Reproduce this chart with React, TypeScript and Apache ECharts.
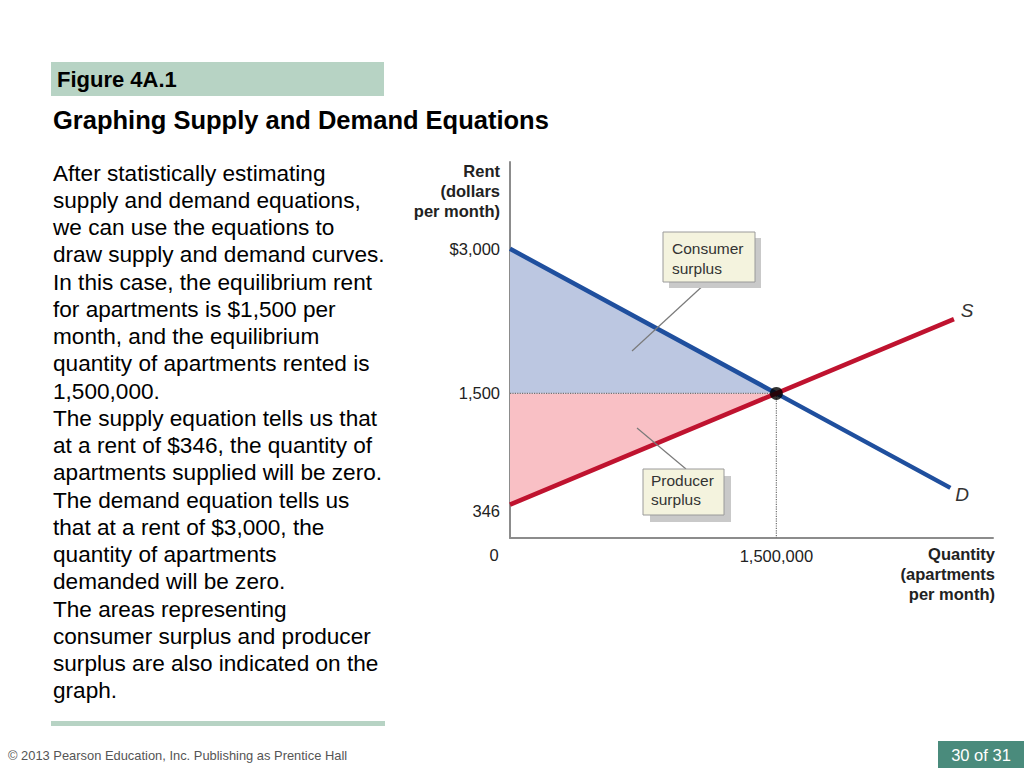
import React, { useEffect, useRef } from "react";
import * as echarts from "echarts";

// ---- data ----
const supplyQ = [0, 1500000, 2500000];
const supplyP = [346, 1500, 2270];
const demandQ = [0, 1500000, 2480000];
const demandP = [3000, 1500, 520];
const equilibrium = [1500000, 1500];
const consumerSurplusQ = [0, 0, 1500000];
const consumerSurplusP = [3000, 1500, 1500];
const producerSurplusQ = [0, 1500000, 0];
const producerSurplusP = [1500, 1500, 346];
const yTickValues = [346, 1500, 3000];
const yTickLabels = ["346", "1,500", "$3,000"];
const xTickValues = [1500000];
const xTickLabels = ["1,500,000"];

const bodyLines = [
  "After statistically estimating",
  "supply and demand equations,",
  "we can use the equations to",
  "draw supply and demand curves.",
  "In this case, the equilibrium rent",
  "for apartments is $1,500 per",
  "month, and the equilibrium",
  "quantity of apartments rented is",
  "1,500,000.",
  "The supply equation tells us that",
  "at a rent of $346, the quantity of",
  "apartments supplied will be zero.",
  "The demand equation tells us",
  "that at a rent of $3,000, the",
  "quantity of apartments",
  "demanded will be zero.",
  "The areas representing",
  "consumer surplus and producer",
  "surplus are also indicated on the",
  "graph.",
];

const FONT = "'Liberation Sans', Arial, Helvetica, sans-serif";

function polygonSeries(qs: number[], ps: number[], fill: string) {
  return {
    type: "custom",
    silent: true,
    clip: false,
    z: 1,
    data: [[qs[0], ps[0]]],
    renderItem: (_params: any, api: any) => ({
      type: "polygon",
      shape: { points: qs.map((q, i) => api.coord([q, ps[i]])) },
      style: { fill, stroke: "none" },
    }),
  };
}

export default function App() {
  const ref = useRef<HTMLDivElement>(null);
  useEffect(() => {
    if (!ref.current) return;
    const chart = echarts.init(ref.current, null, { renderer: "svg" });
    const option: any = {
      animation: false,
      backgroundColor: "#ffffff",
      grid: { left: 510, top: 162, width: 483, height: 376, containLabel: false },
      xAxis: {
        type: "value",
        min: 0,
        max: 2720000,
        splitLine: { show: false },
        axisTick: { show: false },
        axisLine: { show: true, lineStyle: { color: "#8c8c8c", width: 2 } },
        axisLabel: {
          customValues: xTickValues,
          formatter: (v: number) => xTickLabels[xTickValues.indexOf(v)] ?? "",
          color: "#222",
          fontSize: 16.5,
          fontFamily: FONT,
          margin: 9,
        },
      },
      yAxis: {
        type: "value",
        min: 0,
        max: 3900,
        splitLine: { show: false },
        axisTick: { show: false },
        axisLine: { show: true, lineStyle: { color: "#8c8c8c", width: 2 } },
        axisLabel: {
          customValues: yTickValues,
          formatter: (v: number) => {
            const t = yTickLabels[yTickValues.indexOf(v)] ?? "";
            return v === 346 ? `{low|${t}}` : t;
          },
          rich: {
            low: { fontSize: 16.5, fontFamily: FONT, color: "#222", padding: [12, 0, 0, 0] },
          },
          color: "#222",
          fontSize: 16.5,
          fontFamily: FONT,
          margin: 10,
        },
      },
      series: [
        polygonSeries(consumerSurplusQ, consumerSurplusP, "#bcc7e1"),
        polygonSeries(producerSurplusQ, producerSurplusP, "#f9c0c5"),
        {
          type: "line",
          silent: true,
          symbol: "none",
          z: 2,
          lineStyle: { color: "#707070", width: 1.2, type: "dotted" },
          data: [
            [0, equilibrium[1]],
            [equilibrium[0], equilibrium[1]],
          ],
        },
        {
          type: "line",
          silent: true,
          symbol: "none",
          z: 2,
          lineStyle: { color: "#707070", width: 1.2, type: "dotted" },
          data: [
            [equilibrium[0], equilibrium[1]],
            [equilibrium[0], 0],
          ],
        },
        {
          name: "D",
          type: "line",
          silent: true,
          symbol: "none",
          z: 3,
          lineStyle: { color: "#1f4f9e", width: 4.5 },
          data: demandQ.map((q, i) => [q, demandP[i]]),
        },
        {
          name: "S",
          type: "line",
          silent: true,
          symbol: "none",
          z: 3,
          lineStyle: { color: "#bf132f", width: 4.5 },
          data: supplyQ.map((q, i) => [q, supplyP[i]]),
        },
        {
          type: "scatter",
          silent: true,
          z: 4,
          symbolSize: 13,
          itemStyle: { color: "#000" },
          data: [equilibrium],
        },
      ],
      graphic: [
        // header
        { type: "rect", z: 10, shape: { x: 51, y: 62, width: 333, height: 34 }, style: { fill: "#b7d3c4" } },
        {
          type: "text", z: 11, x: 57, y: 79,
          style: { text: "Figure 4A.1", fill: "#000", font: `bold 22px ${FONT}`, verticalAlign: "middle" },
        },
        {
          type: "text", z: 11, x: 53, y: 120,
          style: { text: "Graphing Supply and Demand Equations", fill: "#000", font: `bold 25.5px ${FONT}`, verticalAlign: "middle" },
        },
        {
          type: "text", z: 11, x: 53, y: 159.4,
          style: { text: bodyLines.join("\n"), fill: "#000", font: `22.6px ${FONT}`, lineHeight: 27.26, verticalAlign: "top" },
        },
        { type: "rect", z: 10, shape: { x: 51, y: 721, width: 334, height: 5 }, style: { fill: "#b7d3c4" } },
        // footer
        {
          type: "text", z: 11, x: 8, y: 755,
          style: { text: "© 2013 Pearson Education, Inc. Publishing as Prentice Hall", fill: "#555", font: `12.9px ${FONT}`, verticalAlign: "middle" },
        },
        { type: "rect", z: 10, shape: { x: 938, y: 741, width: 86, height: 27 }, style: { fill: "#4a8b7c" } },
        {
          type: "text", z: 11, x: 981, y: 755,
          style: { text: "30 of 31", fill: "#fff", font: `16.5px ${FONT}`, align: "center", verticalAlign: "middle" },
        },
        // axis titles
        {
          type: "text", z: 11, x: 500, y: 161,
          style: { text: "Rent\n(dollars\nper month)", fill: "#222", font: `bold 16.5px ${FONT}`, lineHeight: 20, align: "right", verticalAlign: "top" },
        },
        {
          type: "text", z: 11, x: 995, y: 544,
          style: { text: "Quantity\n(apartments\nper month)", fill: "#222", font: `bold 16.5px ${FONT}`, lineHeight: 20, align: "right", verticalAlign: "top" },
        },
        {
          type: "text", z: 11, x: 494, y: 555,
          style: { text: "0", fill: "#222", font: `16.5px ${FONT}`, align: "center", verticalAlign: "middle" },
        },
        // curve labels
        {
          type: "text", z: 11, x: 967, y: 310,
          style: { text: "S", fill: "#333", font: `italic 19px ${FONT}`, align: "center", verticalAlign: "middle" },
        },
        {
          type: "text", z: 11, x: 962, y: 494,
          style: { text: "D", fill: "#333", font: `italic 19px ${FONT}`, align: "center", verticalAlign: "middle" },
        },
        // consumer surplus callout
        { type: "line", z: 10, shape: { x1: 707, y1: 282, x2: 632, y2: 351 }, style: { stroke: "#7a7a7a", lineWidth: 1.2 } },
        { type: "rect", z: 10, shape: { x: 669, y: 238, width: 92, height: 50 }, style: { fill: "#c9c9c9" } },
        { type: "rect", z: 11, shape: { x: 663, y: 232, width: 92, height: 50 }, style: { fill: "#f4f3de", stroke: "#9a9a9a", lineWidth: 1 } },
        {
          type: "text", z: 12, x: 672, y: 238,
          style: { text: "Consumer\nsurplus", fill: "#333", font: `15.5px ${FONT}`, lineHeight: 20, verticalAlign: "top" },
        },
        // producer surplus callout
        { type: "line", z: 10, shape: { x1: 637, y1: 428, x2: 686, y2: 469 }, style: { stroke: "#7a7a7a", lineWidth: 1.2 } },
        { type: "rect", z: 10, shape: { x: 650, y: 476, width: 81, height: 46 }, style: { fill: "#c9c9c9" } },
        { type: "rect", z: 11, shape: { x: 643, y: 469, width: 81, height: 46 }, style: { fill: "#f4f3de", stroke: "#9a9a9a", lineWidth: 1 } },
        {
          type: "text", z: 12, x: 651, y: 471,
          style: { text: "Producer\nsurplus", fill: "#333", font: `15.5px ${FONT}`, lineHeight: 19, verticalAlign: "top" },
        },
      ],
    };
    chart.setOption(option);
    return () => chart.dispose();
  }, []);
  return (
    <div
      ref={ref}
      style={{ position: "absolute", left: 0, top: 0, width: 1024, height: 768 }}
    />
  );
}
